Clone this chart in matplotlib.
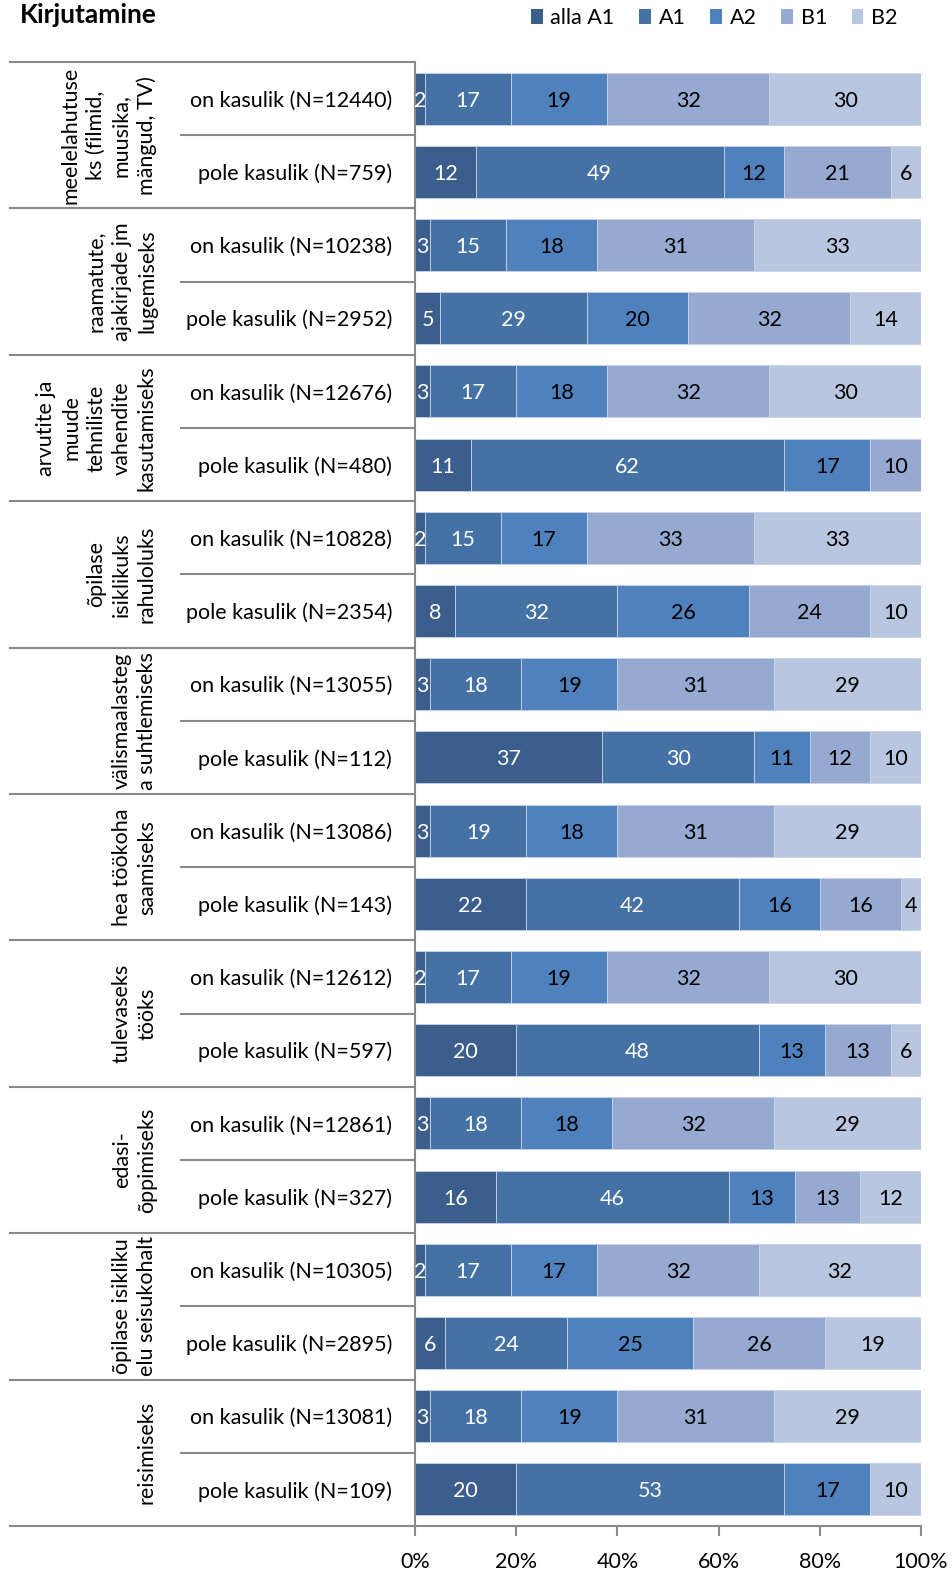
import matplotlib
matplotlib.use("Agg")
import matplotlib.pyplot as plt
import matplotlib.transforms as mtransforms
from matplotlib.patches import Patch

plt.rcParams['font.family'] = ['Lato', 'DejaVu Sans']

groups = [
    "meelelahutuse\nks (filmid,\nmuusika,\nmängud, TV)",
    "raamatute,\najakirjade jm\nlugemiseks",
    "arvutite ja\nmuude\ntehniliste\nvahendite\nkasutamiseks",
    "õpilase\nisiklikuks\nrahuloluks",
    "välismaalasteg\na suhtlemiseks",
    "hea töökoha\nsaamiseks",
    "tulevaseks\ntööks",
    "edasi-\nõppimiseks",
    "õpilase isikliku\nelu seisukohalt",
    "reisimiseks",
]
rows = [
    "on kasulik (N=12440)", "pole kasulik (N=759)",
    "on kasulik (N=10238)", "pole kasulik (N=2952)",
    "on kasulik (N=12676)", "pole kasulik (N=480)",
    "on kasulik (N=10828)", "pole kasulik (N=2354)",
    "on kasulik (N=13055)", "pole kasulik (N=112)",
    "on kasulik (N=13086)", "pole kasulik (N=143)",
    "on kasulik (N=12612)", "pole kasulik (N=597)",
    "on kasulik (N=12861)", "pole kasulik (N=327)",
    "on kasulik (N=10305)", "pole kasulik (N=2895)",
    "on kasulik (N=13081)", "pole kasulik (N=109)",
]
levels = ["alla A1", "A1", "A2", "B1", "B2"]
alla_a1 = [2, 12, 3, 5, 3, 11, 2, 8, 3, 37, 3, 22, 2, 20, 3, 16, 2, 6, 3, 20]
a1 = [17, 49, 15, 29, 17, 62, 15, 32, 18, 30, 19, 42, 17, 48, 18, 46, 17, 24, 18, 53]
a2 = [19, 12, 18, 20, 18, 17, 17, 26, 19, 11, 18, 16, 19, 13, 18, 13, 17, 25, 19, 17]
b1 = [32, 21, 31, 32, 32, 10, 33, 24, 31, 12, 31, 16, 32, 13, 32, 13, 32, 26, 31, 0]
b2 = [30, 6, 33, 14, 30, 0, 33, 10, 29, 10, 29, 4, 30, 6, 29, 12, 32, 19, 29, 10]

series = [alla_a1, a1, a2, b1, b2]
colors = ["#3B5E8C", "#4572A5", "#4F81BD", "#95A9D1", "#B9C6E0"]
text_colors = ["white", "white", "black", "black", "black"]

FS = 15.5
W, H = 952, 1571
fig = plt.figure(figsize=(W / 100, H / 100), dpi=100)
x0, x1 = 415, 921
ytop, ybot = 62, 1526
ax = fig.add_axes([x0 / W, 1 - ybot / H, (x1 - x0) / W, (ybot - ytop) / H])

n = len(rows)
ypos = list(range(n))
left = [0] * n
for vals, col, tc in zip(series, colors, text_colors):
    ax.barh(ypos, vals, left=left, height=0.71, color=col,
            edgecolor="#C8D3E8", linewidth=0.6)
    for i, v in enumerate(vals):
        if v > 0:
            ax.text(left[i] + v / 2, i, str(v), ha="center", va="center_baseline",
                    fontsize=FS, color=tc)
    left = [l + v for l, v in zip(left, vals)]

ax.set_xlim(0, 100)
ax.set_ylim(n - 0.5, -0.5)
ax.set_yticks([])
ax.set_xticks([0, 20, 40, 60, 80, 100])
ax.set_xticklabels(["0%", "20%", "40%", "60%", "80%", "100%"], fontsize=FS)
ax.tick_params(axis="x", length=7, width=1.5, color="#898989", pad=12)
for s in ["top", "right"]:
    ax.spines[s].set_visible(False)
for s in ["left", "bottom"]:
    ax.spines[s].set_color("#898989")
    ax.spines[s].set_linewidth(1.5)

trans = mtransforms.blended_transform_factory(ax.transAxes, ax.transData)
gx_left = (10 - x0) / (x1 - x0)
sx_left = (181 - x0) / (x1 - x0)
lab_x = (392 - x0) / (x1 - x0)
grp_x = (157 - x0) / (x1 - x0)

for i, r in enumerate(rows):
    ax.text(lab_x, i, r, transform=trans, ha="right", va="center_baseline", fontsize=FS)

for g, name in enumerate(groups):
    top = 2 * g - 0.5
    ax.plot([gx_left, 0], [top, top], transform=trans, color="#898989",
            lw=1.5, clip_on=False)
    ax.plot([sx_left, 0], [top + 1, top + 1], transform=trans, color="#898989",
            lw=1.5, clip_on=False)
    ax.text(grp_x, 2 * g + 0.5, name, transform=trans, rotation=90,
            ha="right", va="center", multialignment="center", fontsize=FS,
            linespacing=1.33)
ax.plot([gx_left, 0], [n - 0.5, n - 0.5], transform=trans, color="#898989",
        lw=1.5, clip_on=False)

fig.text(20 / W, 1 - 15 / H, "Kirjutamine", fontsize=19, fontweight="bold",
         ha="left", va="center")

handles = [Patch(facecolor=c, label=l) for c, l in zip(colors, levels)]
fig.legend(handles=handles, loc="center right", bbox_to_anchor=(906 / W, 1 - 18 / H),
           ncol=5, frameon=False, fontsize=FS, handlelength=0.55, handleheight=0.7,
           handletextpad=0.35, columnspacing=1.15, borderaxespad=0)

fig.savefig("out.png", dpi=100)
